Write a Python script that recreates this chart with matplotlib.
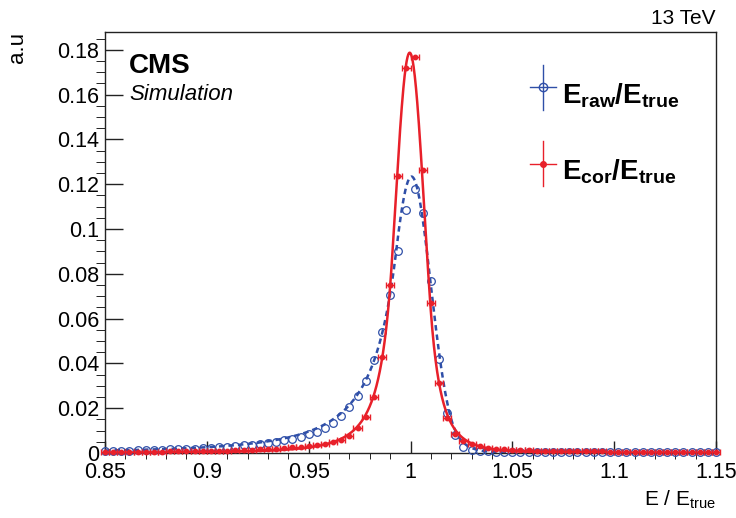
import numpy as np
import matplotlib.pyplot as plt
from matplotlib.ticker import MultipleLocator

plt.rcParams['font.family'] = ['Liberation Sans', 'DejaVu Sans']
plt.rcParams['mathtext.fontset'] = 'custom'
plt.rcParams['mathtext.rm'] = 'Liberation Sans'
plt.rcParams['mathtext.it'] = 'Liberation Sans:italic'
plt.rcParams['mathtext.bf'] = 'Liberation Sans:bold'

# histogram bins (width 0.004), centres from 0.85 to 1.15
bin_w = 0.004
x = np.round(np.arange(0.85, 1.15 + bin_w / 2, bin_w), 4)

# E_raw / E_true
raw = [0.0010, 0.0010, 0.0011, 0.0011, 0.0012, 0.0013, 0.0014, 0.0015, 0.0016, 0.0017,
       0.0018, 0.0020, 0.0022, 0.0024, 0.0026, 0.0028, 0.0031, 0.0034, 0.0037, 0.0041,
       0.0046, 0.0051, 0.0057, 0.0064, 0.0073, 0.0083, 0.0095, 0.0112, 0.0135, 0.0165,
       0.0204, 0.0254, 0.0323, 0.0415, 0.0542, 0.0705, 0.0903, 0.1085, 0.1179, 0.1070,
       0.0769, 0.0418, 0.0180, 0.0080, 0.0028, 0.0015, 0.0010, 0.0007, 0.0006, 0.0005,
       0.0005, 0.0004, 0.0004, 0.0004, 0.0004, 0.0004, 0.0004, 0.0003, 0.0003, 0.0003,
       0.0003, 0.0003, 0.0003, 0.0003, 0.0003, 0.0003, 0.0003, 0.0003, 0.0003, 0.0003,
       0.0003, 0.0003, 0.0003, 0.0003, 0.0003, 0.0003]

# E_cor / E_true
cor = [0.0004, 0.0004, 0.0005, 0.0005, 0.0005, 0.0006, 0.0006, 0.0006, 0.0007, 0.0007,
       0.0008, 0.0008, 0.0009, 0.0009, 0.0010, 0.0011, 0.0012, 0.0013, 0.0014, 0.0016,
       0.0018, 0.0020, 0.0022, 0.0025, 0.0028, 0.0032, 0.0036, 0.0042, 0.0049, 0.0058,
       0.0077, 0.0110, 0.0159, 0.0251, 0.0427, 0.0750, 0.1238, 0.1720, 0.1768, 0.1263,
       0.0671, 0.0314, 0.0158, 0.0085, 0.0055, 0.0040, 0.0030, 0.0024, 0.0020, 0.0017,
       0.0015, 0.0013, 0.0012, 0.0011, 0.0010, 0.0009, 0.0009, 0.0008, 0.0008, 0.0007,
       0.0007, 0.0007, 0.0006, 0.0006, 0.0006, 0.0006, 0.0005, 0.0005, 0.0005, 0.0005,
       0.0005, 0.0005, 0.0004, 0.0004, 0.0004, 0.0004]

# double-sided Crystal Ball fits: peak, mean, sigma, alphaL, nL, alphaR, nR
fit_raw = (0.1234, 1.0005, 0.0095, 0.8, 2.5, 2.0, 10.0)
fit_cor = (0.1787, 0.9996, 0.0072, 1.2, 3.0, 1.4, 4.0)

xticks = [0.85, 0.9, 0.95, 1.0, 1.05, 1.1, 1.15]
xticklabels = ['0.85', '0.9', '0.95', '1', '1.05', '1.1', '1.15']
yticks = [0, 0.02, 0.04, 0.06, 0.08, 0.1, 0.12, 0.14, 0.16, 0.18]
yticklabels = ['0', '0.02', '0.04', '0.06', '0.08', '0.1', '0.12', '0.14', '0.16', '0.18']

blue = '#2f4fa8'
red = '#e8202a'


def dscb(xx, peak, mu, sig, aL, nL, aR, nR):
    t = (xx - mu) / sig
    y = np.exp(-0.5 * t ** 2)
    lo = t < -aL
    y[lo] = (nL / aL) ** nL * np.exp(-0.5 * aL ** 2) * (nL / aL - aL - t[lo]) ** (-nL)
    hi = t > aR
    y[hi] = (nR / aR) ** nR * np.exp(-0.5 * aR ** 2) * (nR / aR - aR + t[hi]) ** (-nR)
    return peak * y


fig = plt.figure(figsize=(7.36, 5.18), dpi=100)
ax = fig.add_axes([0.1427, 0.1255, 0.8301, 0.8121])

xf = np.linspace(0.85, 1.15, 1500)

ax.plot(x, raw, 'o', mfc='none', mec=blue, ms=5.5, mew=0.9, clip_on=False, zorder=3)
ax.plot(xf, dscb(xf, *fit_raw), color=blue, lw=1.8, ls=(0, (2.2, 1.6)), zorder=4)
ax.errorbar(x, cor, xerr=bin_w / 2, fmt='o', color=red, ms=3.2, elinewidth=1.0,
            capsize=2, capthick=1.0, clip_on=False, zorder=5)
ax.plot(xf, dscb(xf, *fit_cor), color=red, lw=1.8, zorder=6)

ax.set_xlim(0.85, 1.15)
ax.set_ylim(0, 0.1878)
ax.set_xticks(xticks)
ax.set_xticklabels(xticklabels)
ax.set_yticks(yticks)
ax.set_yticklabels(yticklabels)
ax.xaxis.set_minor_locator(MultipleLocator(0.01))
ax.yaxis.set_minor_locator(MultipleLocator(0.005))
ax.tick_params(direction='in', labelsize=15.5, width=1.0, color='#222222')
ax.tick_params(axis='x', which='major', length=8.6, pad=6.5)
ax.tick_params(axis='x', which='minor', length=4.3)
ax.tick_params(axis='y', which='major', length=13, pad=4)
ax.tick_params(axis='y', which='minor', length=6.5)
for s in ax.spines.values():
    s.set_linewidth(1.0)
    s.set_color('#222222')

ax.set_ylabel('a.u', loc='top', fontsize=16)
ax.yaxis.set_label_coords(-0.126, 1.0)
ax.set_xlabel(r'E / E$_{\mathrm{true}}$', loc='right', fontsize=15)
ax.xaxis.set_label_coords(1.0, -0.085)

ax.text(1.0, 1.019, '13 TeV', transform=ax.transAxes, ha='right', va='baseline', fontsize=15)
ax.text(0.0398, 0.903, 'CMS', transform=ax.transAxes, fontsize=20, fontweight='bold',
        va='baseline')
ax.text(0.0398, 0.8385, 'Simulation', transform=ax.transAxes, fontsize=16, style='italic',
        va='baseline')

# legend drawn ROOT-style: error cross with marker
entries = [(0.8698, 0.8306, blue, 'none', 6, r'$\mathbf{E_{raw}/E_{true}}$'),
           (0.6881, 0.6508, red, red, 4, r'$\mathbf{E_{cor}/E_{true}}$')]
lx = 0.7169
for cy, ty, c, fc, ms, lab in entries:
    ax.plot([lx, lx], [cy - 0.0534, cy + 0.0534], color=c, lw=1.0,
            transform=ax.transAxes, clip_on=False)
    ax.plot([lx - 0.0207, lx + 0.0207], [cy, cy], color=c, lw=1.0,
            transform=ax.transAxes, clip_on=False)
    ax.plot([lx], [cy], 'o', mfc=fc, mec=c, ms=ms, mew=1.0,
            transform=ax.transAxes, clip_on=False)
    ax.text(0.7475, ty, lab, transform=ax.transAxes, fontsize=20, va='baseline')

fig.savefig('out.png', dpi=100)
